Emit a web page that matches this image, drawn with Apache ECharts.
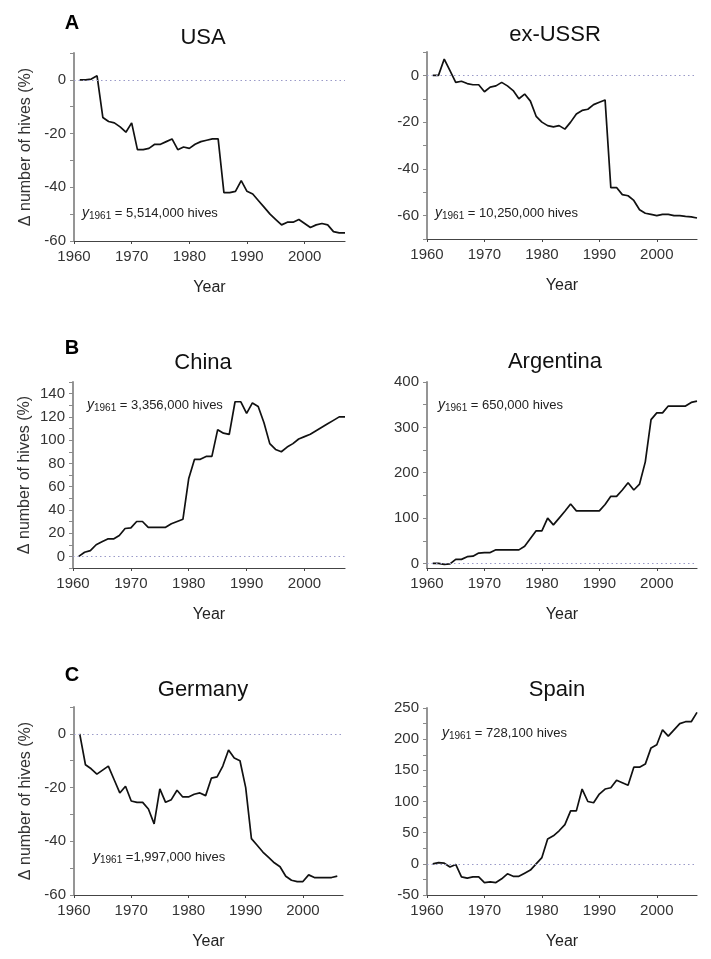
<!DOCTYPE html>
<html>
<head>
<meta charset="utf-8">
<script src="https://cdn.jsdelivr.net/npm/echarts@6/dist/echarts.min.js"></script>
<style>
  html, body { margin: 0; padding: 0; background: #fff; }
  #chart { width: 711px; height: 959px; }
</style>
</head>
<body>
<div id="chart"></div>
<script>
// 年份
const years = [1961, 1962, 1963, 1964, 1965, 1966, 1967, 1968, 1969, 1970,
  1971, 1972, 1973, 1974, 1975, 1976, 1977, 1978, 1979, 1980,
  1981, 1982, 1983, 1984, 1985, 1986, 1987, 1988, 1989, 1990,
  1991, 1992, 1993, 1994, 1995, 1996, 1997, 1998, 1999, 2000,
  2001, 2002, 2003, 2004, 2005, 2006, 2007];

// 各国蜂箱数量变化 (%)
const usa = [0, 0, 0.3, 1.5, -14, -15.5, -16, -17.5, -19.5, -16,
  -26, -26, -25.5, -24, -24, -23, -22, -26, -25, -25.5,
  -24, -23, -22.5, -22, -22, -42, -42, -41.5, -37.5, -41.5,
  -42.5, -45, -47.5, -50, -52, -54, -53, -53, -52, -53.5,
  -55, -54, -53.5, -54, -56.5, -57, -57];
const ussr = [0, 0, 7, 2, -3, -2.5, -3.5, -4, -4, -7,
  -5, -4.5, -3, -4.5, -6.5, -10, -8, -11, -17.5, -20,
  -21.5, -22, -21.5, -23, -20, -16.5, -15, -14.5, -12.5, -11.5,
  -10.5, -48, -48, -51, -51.5, -53.5, -57.5, -59, -59.5, -60,
  -59.5, -59.5, -60, -60, -60.3, -60.5, -61];
const china = [0, 3.5, 5, 10, 12.5, 15, 15, 18, 24, 24.5,
  30, 30, 25, 25, 25, 25, 28, 30, 32, 67,
  83.5, 83.5, 86, 86, 109, 106, 105, 133, 133, 123,
  132, 129, 115, 97, 92, 90, 94, 97, 101, 103,
  105, 108, 111, 114, 117, 120, 120];
const argentina = [0, 0, -2, -1, 9, 9, 15, 16, 23, 24,
  24, 30, 30, 30, 30, 30, 38, 55, 72, 72,
  100, 85, 100, 115, 131, 116, 116, 116, 116, 116,
  130, 148, 148, 162, 178, 162, 175, 224, 317, 332,
  332, 347, 347, 347, 347, 355, 358];
// 德国只到2006年
const germany = [0, -11.5, -13, -15, -13.5, -12, -17, -22, -19.5, -25,
  -25.5, -25.5, -28, -33.5, -20.5, -25.5, -24.5, -21, -23.5, -23.5,
  -22.5, -22, -23, -16.5, -16, -12, -6, -9, -10, -20,
  -39, -41.5, -44, -46, -48, -49.5, -53, -54.5, -55, -55,
  -52.5, -53.5, -53.5, -53.5, -53.5, -53];
const spain = [0, 2, 1, -5, -1, -21, -23, -21, -21, -30,
  -29, -30, -24, -16, -20, -20, -15, -10, 0, 10,
  40, 45, 53, 63, 85, 85, 120, 100, 98, 112,
  120, 122, 134, 130, 126, 155, 155, 160, 186, 191,
  215, 205, 215, 225, 228, 228, 243];

// 坐标轴刻度
const xLabels = [1960, 1970, 1980, 1990, 2000];
const yLabelsNeg = [-60, -40, -20, 0];
const yTicksUSA = [-60, -50, -40, -30, -20, -10, 0, 10];
const yTicksUSSR = [-70, -60, -50, -40, -30, -20, -10, 0, 10];
const yLabelsChina = [0, 20, 40, 60, 80, 100, 120, 140];
const yTicksChina = [-10, 0, 10, 20, 30, 40, 50, 60, 70, 80, 90, 100, 110, 120, 130, 140, 150];
const yLabelsArg = [0, 100, 200, 300, 400];
const yTicksArg = [0, 50, 100, 150, 200, 250, 300, 350, 400];
const yLabelsSpain = [-50, 0, 50, 100, 150, 200, 250];
const yTicksSpain = [-50, -25, 0, 25, 50, 75, 100, 125, 150, 175, 200, 225, 250];

const countries = ['USA', 'ex-USSR', 'China', 'Argentina', 'Germany', 'Spain'];
const hiveCounts = ['= 5,514,000 hives', '= 10,250,000 hives', '= 3,356,000 hives',
  '= 650,000 hives', '=1,997,000 hives', '= 728,100 hives'];

const FONT = 'Liberation Sans, Arial, sans-serif';

const panels = [
  { data: usa, min: -60, max: 10, labels: yLabelsNeg, ticks: yTicksUSA,
    grid: { left: 74, top: 53, width: 271, height: 188 },
    title: [203, 38], note: [82, 213], letter: 'A' },
  { data: ussr, min: -70, max: 10, labels: yLabelsNeg, ticks: yTicksUSSR,
    grid: { left: 427, top: 52, width: 270, height: 187 },
    title: [555, 35], note: [435, 213] },
  { data: china, min: -10, max: 150, labels: yLabelsChina, ticks: yTicksChina,
    grid: { left: 73, top: 382, width: 272, height: 186 },
    title: [203, 363], note: [87, 405], letter: 'B' },
  { data: argentina, min: -10, max: 400, labels: yLabelsArg, ticks: yTicksArg,
    grid: { left: 427, top: 382, width: 270, height: 186 },
    title: [555, 362], note: [438, 405] },
  { data: germany, min: -60, max: 10, labels: yLabelsNeg, ticks: yTicksUSA,
    grid: { left: 74, top: 707, width: 269, height: 188 },
    title: [203, 690], note: [93, 857], letter: 'C' },
  { data: spain, min: -50, max: 250, labels: yLabelsSpain, ticks: yTicksSpain,
    grid: { left: 427, top: 708, width: 270, height: 187 },
    title: [557, 690], note: [442, 733] }
];

const chart = echarts.init(document.getElementById('chart'), null, { renderer: 'canvas' });

const grids = [];
const xAxes = [];
const yAxes = [];
const series = [];
const graphics = [];

panels.forEach((p, i) => {
  grids.push(p.grid);

  xAxes.push({
    type: 'value',
    gridIndex: i,
    min: 1960,
    max: 2007,
    name: 'Year',
    nameLocation: 'middle',
    nameGap: 39,
    nameTextStyle: { fontFamily: FONT, fontSize: 16, color: '#222' },
    axisLine: { onZero: false, lineStyle: { color: '#444', width: 1.2 } },
    axisTick: { customValues: xLabels, length: 3, lineStyle: { color: '#444' } },
    axisLabel: {
      customValues: xLabels, margin: 8, fontFamily: FONT, fontSize: 15, color: '#333',
      formatter: v => String(v)
    },
    splitLine: { show: false }
  });

  yAxes.push({
    type: 'value',
    gridIndex: i,
    min: p.min,
    max: p.max,
    name: i % 2 === 0 ? '\u0394 number of hives (%)' : '',
    nameLocation: 'middle',
    nameRotate: 90,
    nameGap: 40,
    nameTextStyle: { fontFamily: FONT, fontSize: 16, color: '#333' },
    axisLine: { show: true, onZero: false, lineStyle: { color: '#8a8a8a', width: 1.8 } },
    axisTick: { show: true, customValues: p.ticks, length: 4, lineStyle: { color: '#8a8a8a' } },
    axisLabel: {
      customValues: p.labels, margin: 8, fontFamily: FONT, fontSize: 15, color: '#333',
      formatter: v => String(v)
    },
    splitLine: { show: false }
  });

  series.push({
    type: 'line',
    xAxisIndex: i,
    yAxisIndex: i,
    data: p.data.map((v, k) => [years[k], v]),
    showSymbol: false,
    lineStyle: { color: '#111', width: 1.7 },
    markLine: {
      silent: true,
      symbol: 'none',
      label: { show: false },
      lineStyle: { type: [1.5, 3], color: '#9a9ac8', width: 1 },
      data: [{ yAxis: 0 }]
    },
    z: 3
  });

  // 国家标题
  graphics.push({
    type: 'text',
    x: p.title[0],
    y: p.title[1],
    style: {
      text: countries[i],
      fontFamily: FONT,
      fontSize: 22,
      fill: '#111',
      align: 'center',
      verticalAlign: 'middle'
    }
  });

  // 1961年蜂箱数
  graphics.push({
    type: 'text',
    x: p.note[0],
    y: p.note[1],
    style: {
      text: '{i|y}{s|1961}{n| ' + hiveCounts[i] + '}',
      fontFamily: FONT,
      fill: '#222',
      verticalAlign: 'middle',
      rich: {
        i: { fontFamily: FONT, fontSize: 14, fontStyle: 'italic', fill: '#222' },
        s: { fontFamily: FONT, fontSize: 10, fill: '#222', padding: [7, 0, 0, 0] },
        n: { fontFamily: FONT, fontSize: 13, fill: '#222' }
      }
    }
  });

  if (p.letter) {
    graphics.push({
      type: 'text',
      x: 72,
      y: p.title[1] - 15,
      style: {
        text: p.letter,
        fontFamily: FONT,
        fontSize: 20,
        fontWeight: 'bold',
        fill: '#000',
        align: 'center',
        verticalAlign: 'middle'
      }
    });
  }
});

const option = {
  backgroundColor: '#fff',
  animation: false,
  grid: grids,
  xAxis: xAxes,
  yAxis: yAxes,
  series: series,
  graphic: graphics
};

chart.setOption(option);
</script>
</body>
</html>
